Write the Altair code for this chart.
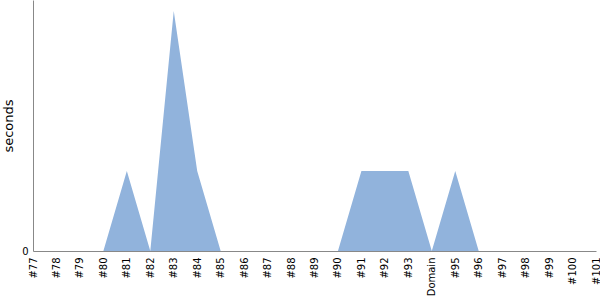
import altair as alt
import pandas as pd

labels = ["#77", "#78", "#79", "#80", "#81", "#82", "#83", "#84", "#85", "#86",
          "#87", "#88", "#89", "#90", "#91", "#92", "#93", "Domain", "#95", "#96",
          "#97", "#98", "#99", "#100", "#101"]
seconds = [0, 0, 0, 0, 1, 0, 3, 1, 0, 0,
           0, 0, 0, 0, 1, 1, 1, 0, 1, 0,
           0, 0, 0, 0, 0]

df = pd.DataFrame({"run": labels, "seconds": seconds})

chart = alt.Chart(df).mark_area(color="#91b3dc", opacity=1).encode(
    x=alt.X("run:N", sort=labels, title=None,
            scale=alt.Scale(type="point", padding=0),
            axis=alt.Axis(labelAngle=-90, ticks=False, grid=False, domainColor="#888888",
                          labelFont="Verdana, DejaVu Sans", labelFontSize=10, labelColor="#000000",
                          labelPadding=6)),
    y=alt.Y("seconds:Q", title="seconds", stack=None,
            scale=alt.Scale(domain=[0, 3.1375], nice=False),
            axis=alt.Axis(values=[0], ticks=False, grid=False, domainColor="#888888",
                          labelFont="Verdana, DejaVu Sans", labelFontSize=10, labelColor="#000000",
                          titleFont="Verdana, DejaVu Sans", titleFontSize=13, titleFontWeight="normal",
                          titleColor="#000000", labelPadding=5, titlePadding=6)),
).properties(
    width=563, height=251,
    autosize=alt.AutoSizeParams(type="none"),
    padding={"left": 33, "top": 0, "right": 4, "bottom": 49},
).configure_view(stroke=None)

chart.save("out.html", embed_options={"renderer": "svg", "actions": False})
